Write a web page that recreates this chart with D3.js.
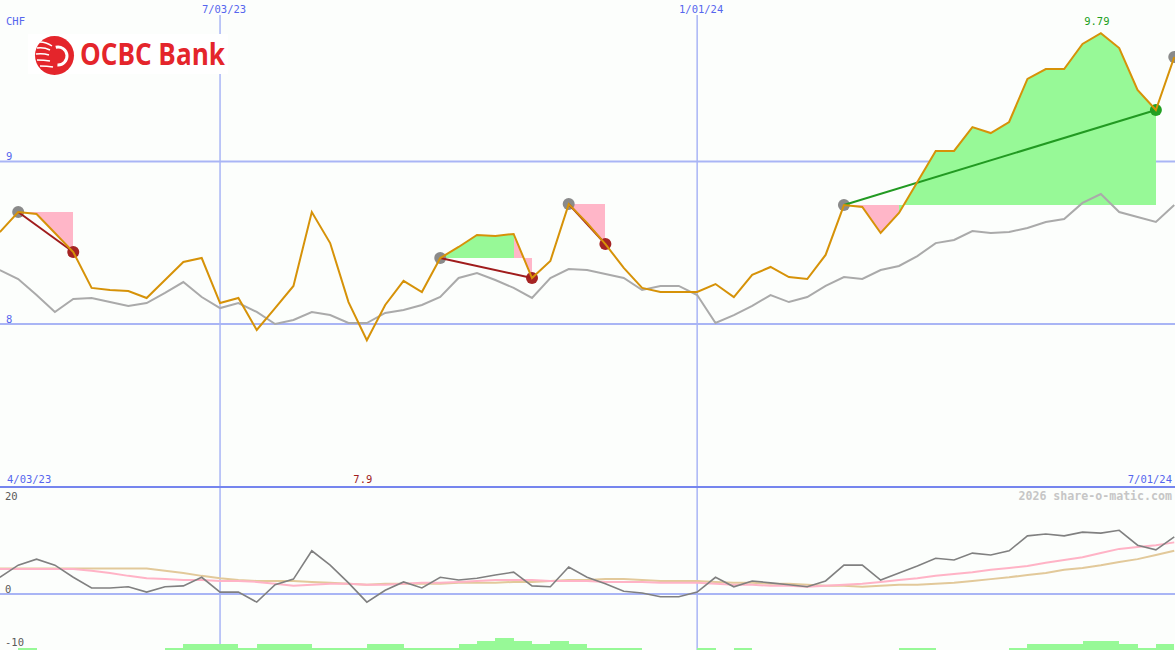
<!DOCTYPE html>
<html><head><meta charset="utf-8">
<script src="https://cdn.jsdelivr.net/npm/d3@7"></script>
<style>body{margin:0;background:#fcfefc}svg{display:block}</style>
</head><body><svg id="c" width="1175" height="650"></svg>
<script>
// ---------- data ----------
const axisStart = "2023-04-03";
const axisEnd = "2024-07-01";
const firstWeek = "2023-04-10";
const topTicks = ["2023-07-03", "2024-01-01"];
const priceTicks = [8, 9];
const indicatorTicks = [20, 0, -10];
const currency = "CHF";
const watermark = "2026 share-o-matic.com";

const price = [
 8.566, 8.689, 8.677, 8.560, 8.443, 8.222, 8.209, 8.203, 8.160, 8.271,
 8.382, 8.406, 8.129, 8.160, 7.963, 8.098, 8.234, 8.689, 8.498, 8.135,
 7.90, 8.117, 8.265, 8.197, 8.406, 8.474, 8.548, 8.542, 8.554, 8.283,
 8.388, 8.738, 8.622, 8.492, 8.345, 8.222, 8.197, 8.197, 8.197, 8.246,
 8.166, 8.302, 8.351, 8.289, 8.277, 8.425, 8.732, 8.720, 8.560, 8.683,
 8.874, 9.065, 9.065, 9.212, 9.175, 9.243, 9.508, 9.569, 9.569, 9.723,
 9.79, 9.698, 9.440, 9.317, 9.643];

const average = [
 8.332, 8.277, 8.178, 8.074, 8.154, 8.160, 8.135, 8.111, 8.129, 8.191,
 8.258, 8.166, 8.098, 8.129, 8.074, 8.000, 8.025, 8.074, 8.055, 8.006,
 8.006, 8.068, 8.086, 8.117, 8.166, 8.283, 8.314, 8.271, 8.222, 8.160,
 8.283, 8.338, 8.332, 8.308, 8.283, 8.209, 8.234, 8.234, 8.178, 8.006,
 8.055, 8.111, 8.178, 8.135, 8.166, 8.234, 8.289, 8.277, 8.332, 8.357,
 8.418, 8.498, 8.517, 8.572, 8.560, 8.566, 8.591, 8.628, 8.646, 8.745,
 8.800, 8.689, 8.658, 8.628, 8.732];

const momentum = [
 3.6, 6.2, 7.5, 6.2, 3.6, 1.3, 1.3, 1.55, 0.4, 1.55,
 1.75, 3.6, 0.4, 0.4, -1.75, 2.0, 3.2, 9.3, 6.2, 2.4,
 -1.75, 0.8, 2.6, 1.3, 3.6, 3.0, 3.4, 4.1, 4.7, 1.75,
 1.55, 5.8, 3.6, 2.2, 0.6, 0.2, -0.6, -0.6, 0.4, 3.6,
 1.55, 2.8, 2.4, 2.0, 1.55, 2.8, 6.2, 6.2, 3.0, 4.5,
 6.0, 7.7, 7.3, 8.8, 8.4, 9.3, 12.5, 12.9, 12.5, 13.3,
 13.1, 13.7, 10.5, 9.5, 12.3];

const signalFast = [
 5.4, 5.4, 5.4, 5.4, 5.4, 5.0, 4.5, 3.9, 3.4, 3.2,
 3.0, 3.0, 2.8, 2.8, 2.6, 2.2, 1.75, 2.0, 2.2, 2.2,
 2.0, 2.0, 2.2, 2.4, 2.4, 2.6, 2.8, 3.0, 3.0, 3.0,
 2.8, 2.8, 2.8, 2.6, 2.6, 2.6, 2.4, 2.4, 2.4, 2.2,
 2.0, 2.0, 1.75, 1.75, 1.55, 1.75, 2.0, 2.2, 2.6, 3.0,
 3.4, 3.9, 4.3, 4.7, 5.2, 5.6, 6.0, 6.7, 7.3, 7.9,
 8.8, 9.7, 10.1, 10.5, 11.1];

const signalSlow = [
 5.5, 5.5, 5.5, 5.5, 5.5, 5.5, 5.5, 5.5, 5.5, 5.0,
 4.5, 3.9, 3.4, 3.0, 2.8, 2.8, 2.8, 2.6, 2.4, 2.2,
 2.0, 2.2, 2.2, 2.2, 2.2, 2.4, 2.4, 2.4, 2.6, 2.6,
 2.8, 3.0, 3.0, 3.2, 3.2, 3.0, 2.8, 2.8, 2.8, 2.6,
 2.4, 2.4, 2.2, 2.2, 2.0, 1.75, 1.75, 1.55, 1.75, 2.0,
 2.0, 2.2, 2.4, 2.8, 3.2, 3.6, 4.1, 4.5, 5.2, 5.6,
 6.2, 6.9, 7.5, 8.4, 9.3];

const volume = [
 0, 0.7, 0, 0, 0, 0, 0, 0, 0, 0.7,
 2, 2, 2, 0.7, 2, 2, 2, 0.7, 0.7, 0.7,
 2, 2, 0.7, 0.7, 0.7, 2, 3, 4, 3, 2,
 3, 2, 0.7, 0.7, 0.7, 0, 0, 0, 0.7, 0,
 0.7, 0, 0, 0, 0, 0, 0, 0, 0, 0.7,
 0.7, 0, 0, 0, 0, 0.7, 2, 2, 2, 3,
 3, 2, 0.7, 2, 0];

const tradeEntry = ["2023-04-17", "2023-09-25", "2023-11-13", "2024-02-26"];
const tradeExit  = ["2023-05-08", "2023-10-30", "2023-11-27", "2024-06-24"];
const openEntry  = ["2024-07-01"];

// ---------- setup ----------
const W = 1175, H = 650;
const C = {
  bg: "#fcfefc", grid: "#a9b5f5", sep: "#7585ee", label: "#5666ee",
  price: "#d69208", avg: "#aaaaaa", mom: "#808080", fast: "#ffb3c6", slow: "#e2c99a",
  gain: "#97f997", loss: "#ffb6c8", vol: "#97f997", entry: "#8a8a8a",
  lossDot: "#a52424", gainDot: "#22a022", lossLine: "#a01c1c", gainLine: "#229a22"
};
const parse = d3.utcParse("%Y-%m-%d");
const dates = price.map((_, i) => d3.utcDay.offset(parse(firstWeek), 7 * i));
const svg = d3.select("#c");

const x = d3.scaleUtc().domain([parse(axisStart), parse(axisEnd)]).range([-18.5, W - 0.75]);
const y = d3.scaleLinear().domain([8, 9]).range([324, 161.5]);
const yi = d3.scaleLinear().domain([-10, 20]).range([640.5, 501]);
const yv = d3.scaleLinear().domain([0, 4]).range([650, 638]);

const font = "'DejaVu Sans Mono', monospace";

svg.append("rect").attr("width", W).attr("height", H).attr("fill", C.bg);

// ---------- grid ----------
const grid = svg.append("g");
priceTicks.forEach(v => grid.append("line").attr("x1", 0).attr("x2", W)
  .attr("y1", y(v)).attr("y2", y(v)).attr("stroke", C.grid).attr("stroke-width", 2));
grid.append("line").attr("x1", 0).attr("x2", W).attr("y1", yi(0)).attr("y2", yi(0))
  .attr("stroke", C.grid).attr("stroke-width", 2);
topTicks.forEach(t => grid.append("line").attr("x1", x(parse(t))).attr("x2", x(parse(t)))
  .attr("y1", 15).attr("y2", H).attr("stroke", C.grid).attr("stroke-width", 1.5));
grid.append("line").attr("x1", 0).attr("x2", W).attr("y1", 487).attr("y2", 487)
  .attr("stroke", C.sep).attr("stroke-width", 2);

// ---------- volume ----------
svg.append("g").selectAll("rect").data(volume).join("rect")
  .attr("x", (d, i) => x(dates[i]))
  .attr("width", (d, i) => x(d3.utcDay.offset(dates[i], 7)) - x(dates[i]))
  .attr("y", d => yv(d)).attr("height", d => yv(0) - yv(d))
  .attr("fill", C.vol).attr("shape-rendering", "crispEdges");

// ---------- indicator ----------
const lineI = arr => d3.line().x((d, i) => x(dates[i])).y(d => yi(d))(arr);
svg.append("path").attr("d", lineI(signalSlow)).attr("fill", "none").attr("stroke", C.slow).attr("stroke-width", 2);
svg.append("path").attr("d", lineI(signalFast)).attr("fill", "none").attr("stroke", C.fast).attr("stroke-width", 2);
svg.append("path").attr("d", lineI(momentum)).attr("fill", "none").attr("stroke", C.mom).attr("stroke-width", 1.6);

// ---------- trade fills ----------
const idx = s => dates.findIndex(d => +d === +parse(s));
const trades = tradeEntry.map((e, k) => ({ i0: idx(e), i1: idx(tradeExit[k]) }));
const fills = svg.append("g").attr("shape-rendering", "crispEdges");
trades.forEach(t => {
  const pe = price[t.i0];
  for (let i = t.i0; i < t.i1; i++) {
    const pts = [[x(dates[i]), y(pe)], [x(dates[i]), y(price[i])],
                 [x(dates[i + 1]), y(price[i + 1])], [x(dates[i + 1]), y(pe)]];
    fills.append("path").attr("d", "M" + pts.join("L") + "Z")
      .attr("fill", price[i + 1] >= pe ? C.gain : C.loss);
  }
});

// ---------- average ----------
const lineP = arr => d3.line().x((d, i) => x(dates[i])).y(d => y(d))(arr);
svg.append("path").attr("d", lineP(average)).attr("fill", "none").attr("stroke", C.avg).attr("stroke-width", 2);

// ---------- trade markers ----------
const marks = svg.append("g");
trades.forEach(t => {
  const win = price[t.i1] >= price[t.i0];
  marks.append("circle").attr("cx", x(dates[t.i0])).attr("cy", y(price[t.i0])).attr("r", 6).attr("fill", C.entry);
  marks.append("circle").attr("cx", x(dates[t.i1])).attr("cy", y(price[t.i1])).attr("r", 6)
    .attr("fill", win ? C.gainDot : C.lossDot);
});
openEntry.forEach(e => {
  const i = idx(e);
  marks.append("circle").attr("cx", x(dates[i])).attr("cy", y(price[i])).attr("r", 6).attr("fill", C.entry);
});
trades.forEach(t => {
  const win = price[t.i1] >= price[t.i0];
  marks.append("line").attr("x1", x(dates[t.i0])).attr("y1", y(price[t.i0]))
    .attr("x2", x(dates[t.i1])).attr("y2", y(price[t.i1]))
    .attr("stroke", win ? C.gainLine : C.lossLine).attr("stroke-width", 2);
});

// ---------- price ----------
svg.append("path").attr("d", lineP(price)).attr("fill", "none").attr("stroke", C.price)
  .attr("stroke-width", 2).attr("stroke-linejoin", "miter");

// ---------- texts ----------
const T = (txt, tx, ty, opts = {}) => svg.append("text").text(txt).attr("x", tx).attr("y", ty)
  .attr("font-family", font).attr("font-size", opts.size || 10.5)
  .attr("font-weight", opts.weight || "normal")
  .attr("fill", opts.fill || C.label).attr("text-anchor", opts.anchor || "start");
const fmtDate = d3.utcFormat("%-m/%d/%y");
T(currency, 6, 25);
topTicks.forEach(t => T(fmtDate(parse(t)), x(parse(t)) + 4, 13, { anchor: "middle" }));
priceTicks.forEach(v => T(String(v), 6, y(v) - 1.5));
T(fmtDate(parse(axisStart)), 7, 483);
T(fmtDate(parse(axisEnd)), 1172, 483, { anchor: "end" });
const iMax = d3.maxIndex(price), iMin = d3.minIndex(price);
const fmtV = d3.format("~g");
T(fmtV(price[iMax]), x(dates[iMax]) - 4, 25, { anchor: "middle", fill: C.gainDot });
T(fmtV(price[iMin]), x(dates[iMin]) - 4, 483, { anchor: "middle", fill: C.lossLine });
const iLow = d3.min(indicatorTicks);
indicatorTicks.forEach(v => T(String(v), 5, v === iLow ? H - 4 : yi(v) - 1, { fill: "#5a5a5a" }));
T(watermark, 1172, 500, { anchor: "end", fill: "#c6c6c6", weight: "bold", size: 11.6 });

// ---------- logo ----------
const logo = svg.append("g");
logo.append("rect").attr("x", 28).attr("y", 34).attr("width", 200).attr("height", 40).attr("fill", "#ffffff");
const red = "#e4252b";
logo.append("circle").attr("cx", 54.5).attr("cy", 55.5).attr("r", 19.5).attr("fill", red);
logo.append("path").attr("transform", "translate(58,56)")
  .attr("d", d3.arc()({ innerRadius: 7.5, outerRadius: 10.5, startAngle: -0.08 * Math.PI, endAngle: 1.02 * Math.PI }))
  .attr("fill", "#fff");
[[40, 42, 46, 42, 52, 46], [37, 48, 44, 47, 50, 50], [36, 54, 43, 53, 49, 55],
 [37, 60, 44, 60, 50, 61], [40, 66, 47, 66, 53, 67]]
  .forEach(p => logo.append("path").attr("d", `M${p[0]},${p[1]}Q${p[2]},${p[3]} ${p[4]},${p[5]}`)
    .attr("stroke", "#fff").attr("stroke-width", 1.5).attr("fill", "none"));
logo.append("text").text("OCBC Bank").attr("x", 80).attr("y", 65)
  .attr("font-family", "'Open Sans', 'Liberation Sans', sans-serif").attr("font-weight", "bold")
  .attr("font-size", 30).attr("fill", red).attr("textLength", 145).attr("lengthAdjust", "spacingAndGlyphs");
</script></body></html>
